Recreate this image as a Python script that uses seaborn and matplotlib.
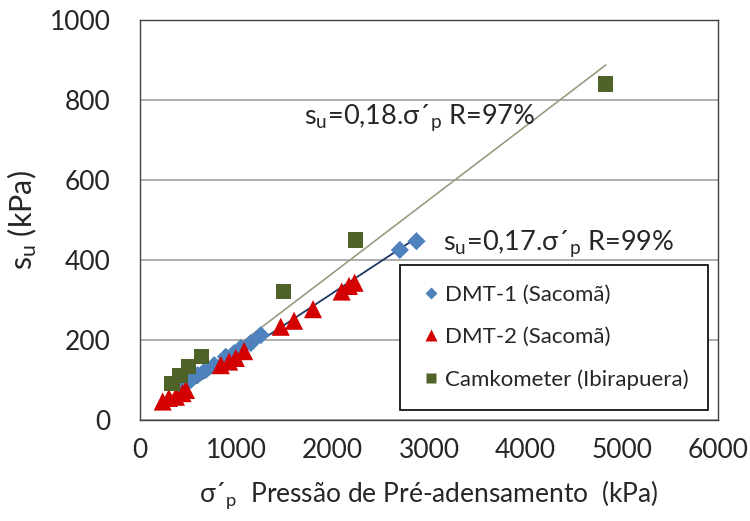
import numpy as np
import pandas as pd
import matplotlib
matplotlib.use("Agg")
import matplotlib.pyplot as plt
from matplotlib.ticker import MultipleLocator
import seaborn as sns

# data (sigma'p in kPa, su in kPa)
dmt1_sp = [430, 528, 598, 684, 770, 891, 977, 1047, 1150, 1254, 2697, 2870]
dmt1_su = [78, 100, 112, 125, 137, 158, 167, 180, 192, 212, 425, 447]

dmt2_sp = [235, 300, 373, 442, 477, 839, 925, 995, 1081, 1461, 1599, 1796, 2093, 2169, 2228]
dmt2_su = [46, 55, 58, 67, 75, 137, 146, 155, 172, 233, 248, 277, 321, 335, 343]

cam_sp = [332, 415, 505, 642, 1489, 2238, 4836]
cam_su = [92, 112, 133, 158, 321, 450, 840]

labels = ["DMT-1 (Sacomã)", "DMT-2 (Sacomã)", "Camkometer (Ibirapuera)"]

df = pd.concat([
    pd.DataFrame({"sp": dmt1_sp, "su": dmt1_su, "serie": labels[0]}),
    pd.DataFrame({"sp": dmt2_sp, "su": dmt2_su, "serie": labels[1]}),
    pd.DataFrame({"sp": cam_sp, "su": cam_su, "serie": labels[2]}),
])

sns.set_style("white")
plt.rcParams["font.family"] = ["Lato", "DejaVu Sans"]
plt.rcParams["mathtext.fontset"] = "dejavusans"

fig = plt.figure(figsize=(7.5, 5.21), dpi=100)
ax = fig.add_axes([0.1867, 0.194, 0.7706, 0.7676])

# trend lines through the origin (Excel-style)
def fit0(x, y):
    x = np.asarray(x, float)
    y = np.asarray(y, float)
    return (x * y).sum() / (x * x).sum()

dmt_x = np.array(dmt1_sp + dmt2_sp)
dmt_y = np.array(dmt1_su + dmt2_su)
k1 = fit0(dmt_x, dmt_y)
xs1 = np.array([dmt_x.min(), dmt_x.max()])
ax.plot(xs1, k1 * xs1, color="#1f3864", lw=1.3, zorder=2)

k2 = fit0(cam_sp, cam_su)
xs2 = np.array([min(cam_sp), max(cam_sp)])
ax.plot(xs2, k2 * xs2, color="#9d9a82", lw=1.2, zorder=2)

sns.scatterplot(data=df, x="sp", y="su", hue="serie", style="serie", size="serie",
                hue_order=labels, style_order=labels, size_order=labels,
                palette=["#4f81bd", "#d40000", "#4f6228"],
                markers=["D", "^", "s"],
                sizes={labels[0]: 85, labels[1]: 170, labels[2]: 120},
                edgecolor="none", alpha=1, ax=ax, zorder=3, legend=True)

ax.set_xlim(0, 6000)
ax.set_ylim(0, 1000)
ax.xaxis.set_major_locator(MultipleLocator(1000))
ax.xaxis.set_minor_locator(MultipleLocator(200))
ax.yaxis.set_major_locator(MultipleLocator(200))
ax.yaxis.set_minor_locator(MultipleLocator(40))
ax.tick_params(axis="x", which="major", direction="inout", length=10, width=1,
               labelsize=19, pad=8, color="#404040")
ax.tick_params(axis="y", which="major", direction="out", length=7, width=1,
               labelsize=19, pad=14, color="#404040")
ax.tick_params(which="minor", direction="in", length=5, width=0.8, color="#404040")
ax.grid(axis="y", which="major", color="#a0a0a0", lw=1.2)
ax.set_axisbelow(True)
for side in ["left", "bottom", "top", "right"]:
    ax.spines[side].set_color("#404040")
    ax.spines[side].set_linewidth(1)

ax.set_xlabel("σ´$_\\mathregular{p}$  Pressão de Pré-adensamento  (kPa)", fontsize=19, labelpad=11)
ax.set_ylabel("$\\mathregular{s_u}$ (kPa)", fontsize=22, labelpad=8)

ax.text(1700, 755, "$\\mathregular{s_u}$=0,18.σ´$_\\mathregular{p}$ R=97%",
        fontsize=19.5, va="center", ha="left")
ax.text(3150, 440, "$\\mathregular{s_u}$=0,17.σ´$_\\mathregular{p}$ R=99%",
        fontsize=19.5, va="center", ha="left")

leg = ax.legend(loc="lower right", bbox_to_anchor=(0.983, 0.025), fontsize=16,
                frameon=True, fancybox=False, edgecolor="black", framealpha=1,
                labelspacing=1.0, handletextpad=0.1, borderpad=0.9,
                handlelength=1.0, markerscale=0.7, borderaxespad=0)
leg.get_frame().set_linewidth(1.2)

fig.savefig("out.png", dpi=100)
